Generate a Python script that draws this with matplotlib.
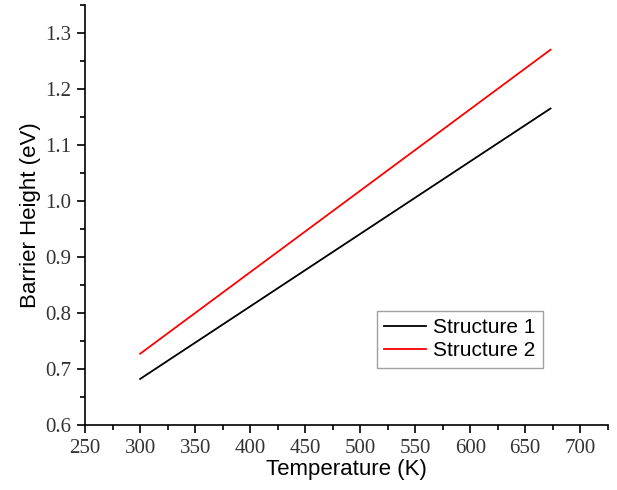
import numpy as np
import matplotlib.pyplot as plt
from matplotlib.ticker import MultipleLocator

# data
temp = [300, 673]
bh_s1 = [0.682, 1.165]
bh_s2 = [0.727, 1.270]

fig = plt.figure(figsize=(6.17, 4.90), dpi=100)
ax = fig.add_axes([0.138, 0.133, 0.847, 0.857])

ax.plot(temp, bh_s1, color='black', lw=1.3, label='Structure 1')
ax.plot(temp, bh_s2, color='red', lw=1.3, label='Structure 2')

ax.set_xlim(250, 725)
ax.set_ylim(0.6, 1.35)
ax.xaxis.set_major_locator(MultipleLocator(50))
ax.xaxis.set_minor_locator(MultipleLocator(25))
ax.yaxis.set_major_locator(MultipleLocator(0.1))
ax.yaxis.set_minor_locator(MultipleLocator(0.05))
ax.yaxis.set_major_formatter(plt.FormatStrFormatter('%.1f'))

for s in ['top', 'right']:
    ax.spines[s].set_visible(False)
for s in ['left', 'bottom']:
    ax.spines[s].set_linewidth(1.2)
ax.tick_params(which='major', direction='out', length=6, width=1.2, pad=4)
ax.tick_params(which='minor', direction='out', length=3.5, width=1.2)
for lab in ax.get_xticklabels() + ax.get_yticklabels():
    lab.set_fontfamily('Liberation Serif')
    lab.set_fontsize(15)
    lab.set_color('#333333')

ax.set_xlabel('Temperature (K)', family='Liberation Sans', fontsize=16, labelpad=1)
ax.set_ylabel('Barrier Height (eV)', family='Liberation Sans', fontsize=16, labelpad=3)

leg = ax.legend(loc='lower left', bbox_to_anchor=(0.558, 0.136),
                prop={'family': 'Liberation Sans', 'size': 15},
                frameon=True, fancybox=False, handlelength=2.0,
                handletextpad=0.35, borderpad=0.35, labelspacing=0.2,
                borderaxespad=0)
leg.get_frame().set_edgecolor('#888888')
leg.get_frame().set_linewidth(1.0)

fig.savefig('out.png', dpi=100)
